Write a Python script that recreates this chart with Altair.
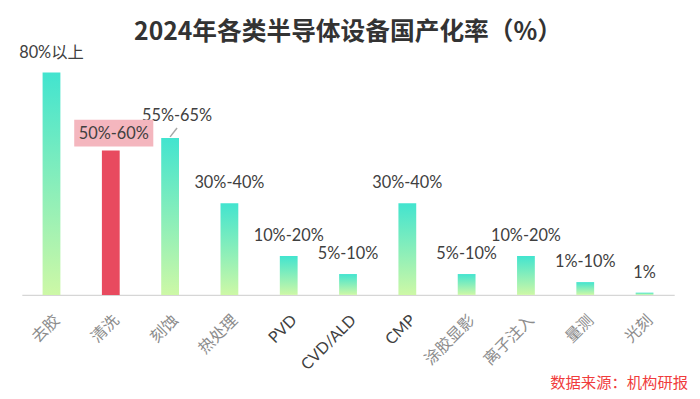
import altair as alt
import pandas as pd

categories = ["去胶", "清洗", "刻蚀", "热处理", "PVD", "CVD/ALD", "CMP", "涂胶显影", "离子注入", "量测", "光刻"]
values = [80, 52, 56.5, 33, 14, 7.5, 33, 7.5, 14, 4.6, 0.8]
labels = ["80%以上", "50%-60%", "55%-65%", "30%-40%", "10%-20%", "5%-10%", "30%-40%", "5%-10%", "10%-20%", "1%-10%", "1%"]
highlight = "清洗"
callout = "刻蚀"
title_text = "2024年各类半导体设备国产化率（%）"
source_text = "数据来源：机构研报"

df = pd.DataFrame({"cat": categories, "val": values, "label": labels})

W, H = 660, 253

grad = alt.Gradient(
    gradient="linear", x1=0, y1=0, x2=0, y2=1,
    stops=[alt.GradientStop(color="#42E4CF", offset=0),
           alt.GradientStop(color="#CDF8A6", offset=1)],
)

x = alt.X(
    "cat:N", sort=categories,
    scale=alt.Scale(paddingInner=0.7, paddingOuter=0.35),
    axis=alt.Axis(
        title=None, labelAngle=-45, labelFontSize=16, ticks=False,
        labelPadding=17,
        labelColor=alt.expr("test(/^[A-Z]/, datum.label) ? '#404040' : '#8c8c8c'"),
        labelFont="Lato, Noto Sans CJK SC",
        domainColor="#d6d6d6", domainWidth=1.5,
    ),
)
y = alt.Y("val:Q", scale=alt.Scale(domain=[0, 90]), axis=None)

base = alt.Chart(df).encode(x=x, y=y)

bars = base.mark_bar(color=grad).transform_filter(alt.datum.cat != highlight)
red_bar = base.mark_bar(color="#E84A5F").transform_filter(alt.datum.cat == highlight)

txt_style = dict(font="Lato, Noto Sans CJK SC", fontSize=16.5, color="#404040", baseline="middle")

normal_labels = base.mark_text(dy=-20, **txt_style).encode(text="label:N").transform_filter(
    (alt.datum.cat != highlight) & (alt.datum.cat != callout))
callout_label = base.mark_text(dx=7, dy=-22, **txt_style).encode(text="label:N").transform_filter(
    alt.datum.cat == callout)
leader = base.mark_rule(color="#a6a6a6", strokeWidth=1.5, yOffset=-1, y2Offset=-10, x2Offset=7).encode(
    x2=alt.X2("cat"), y2=alt.Y2("val")).transform_filter(alt.datum.cat == callout)

box = base.mark_point(
    shape="M-1,-0.3375L1,-0.3375L1,0.3375L-1,0.3375Z", size=6400, filled=True,
    color="#F4B6BE", opacity=1, xOffset=3, yOffset=-17.5,
).transform_filter(alt.datum.cat == highlight)
box_label = base.mark_text(dx=3, dy=-17, **txt_style).encode(text="label:N").transform_filter(
    alt.datum.cat == highlight)

source = alt.Chart(pd.DataFrame({"t": [source_text]})).mark_text(
    font="Noto Sans CJK SC", fontSize=15.5, color="#F03C3C", align="right", baseline="middle"
).encode(x=alt.value(W + 14), y=alt.value(H + 89), text="t:N")

chart = alt.layer(bars, red_bar, leader, normal_labels, callout_label, box, box_label, source).properties(
    width=W, height=H,
    title=alt.TitleParams(title_text, font="Noto Sans CJK SC", fontSize=25, fontWeight="bold",
                          color="#333333", anchor="middle", offset=0),
    autosize=alt.AutoSizeParams(type="none"),
    padding={"left": 14, "top": 35, "right": 18, "bottom": 95},
).configure_view(stroke=None)

chart.save("out.html", embed_options={"renderer": "svg", "actions": False})
